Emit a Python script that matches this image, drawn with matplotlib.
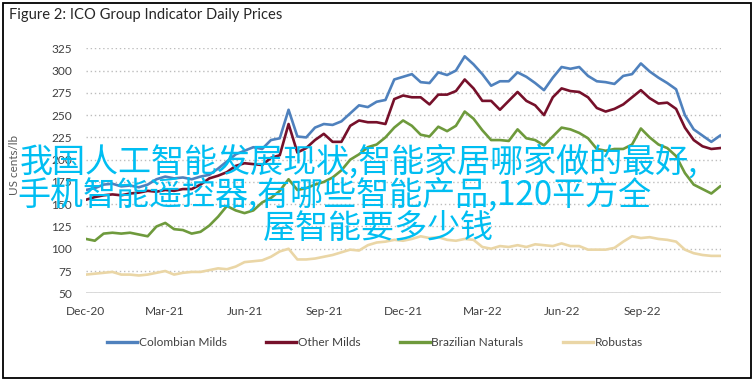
import matplotlib
matplotlib.use("Agg")
import matplotlib.pyplot as plt
import matplotlib.dates as mdates
from matplotlib.patches import Rectangle
import pandas as pd

# values, one point roughly every 10 days (Dec-20 .. Nov-22)
colombian = [166, 168, 172, 173, 170, 171, 169, 172, 178, 181, 179, 180, 178, 181, 183, 190,
             198, 206, 210, 214, 212, 222, 224, 256, 226, 225, 236, 240, 239, 243, 252, 261,
             259, 265, 267, 290, 293, 296, 287, 286, 298, 295, 300, 316, 307, 296, 283, 288,
             288, 298, 293, 286, 278, 292, 304, 302, 304, 294, 288, 287, 285, 294, 296, 308,
             299, 292, 286, 279, 250, 234, 227, 220, 227]
other_milds = [155, 158, 160, 161, 160, 162, 163, 165, 164, 166, 165, 167, 167, 172, 179, 182,
               186, 193, 196, 195, 194, 202, 205, 240, 208, 213, 222, 229, 220, 220, 238, 244,
               242, 242, 240, 268, 272, 270, 270, 262, 273, 273, 277, 290, 280, 266, 266, 256,
               266, 276, 266, 261, 250, 270, 280, 277, 276, 270, 258, 254, 257, 262, 270, 278,
               269, 263, 264, 257, 236, 222, 215, 212, 213]
brazilian = [111, 109, 117, 118, 117, 118, 116, 114, 125, 129, 122, 121, 117, 119, 126, 136,
             148, 143, 140, 143, 152, 157, 165, 178, 166, 168, 172, 175, 180, 188, 200, 206,
             214, 217, 225, 236, 244, 238, 228, 226, 237, 232, 238, 254, 246, 233, 222, 222,
             221, 234, 224, 222, 216, 226, 236, 234, 230, 224, 212, 210, 212, 212, 217, 235,
             225, 217, 213, 204, 185, 172, 167, 162, 170]
robustas = [71, 72, 73, 74, 71, 71, 70, 71, 73, 75, 71, 73, 74, 74, 76, 78,
            77, 80, 85, 86, 87, 91, 97, 100, 88, 88, 89, 91, 93, 96, 99, 98,
            104, 107, 108, 110, 109, 111, 114, 112, 113, 110, 109, 111, 110, 102, 100, 103,
            102, 104, 102, 105, 104, 103, 106, 103, 103, 99, 99, 99, 101, 108, 114, 112,
            113, 111, 110, 108, 99, 95, 93, 92, 92]

dates = pd.date_range("2020-12-01", "2022-11-29", periods=len(colombian))

series = ["Colombian Milds", "Other Milds", "Brazilian Naturals", "Robustas"]
colors = ["#4f81bd", "#76102a", "#6e9a3c", "#ead6a6"]
overlay = ["我国人工智能发展现状,智能家居哪家做的最好,",
           "手机智能遥控器,有哪些智能产品,120平方全",
           "屋智能要多少钱"]

plt.rcParams["font.family"] = ["Lato", "DejaVu Sans"]
W, H = 755, 382
fig = plt.figure(figsize=(W / 100, H / 100), dpi=100)
ax = fig.add_axes([86 / W, 1 - 293.3 / H, 635 / W, 245 / H])

for vals, name, c in zip([colombian, other_milds, brazilian, robustas], series, colors):
    ax.plot(dates, vals, color=c, lw=1.9, label=name, solid_joinstyle="round")

ax.set_ylim(50, 325)
ax.set_yticks(range(50, 326, 25))
ax.set_xlim(pd.Timestamp("2020-12-01"), pd.Timestamp("2022-11-30"))
ax.xaxis.set_major_locator(mdates.MonthLocator(bymonth=[3, 6, 9, 12]))
ax.xaxis.set_major_formatter(mdates.DateFormatter("%b-%y"))
ax.grid(axis="y", color="#bdbdbd", linestyle=(0, (1, 2)), lw=1)
ax.axhline(50, color="#d4d4d4", lw=1.2)
for s in ax.spines.values():
    s.set_visible(False)
ax.tick_params(axis="y", length=0, pad=10, labelsize=8.6, labelcolor="#404040")
ax.tick_params(axis="x", length=0, pad=9, labelsize=8.6, labelcolor="#404040")
ax.set_axisbelow(True)

fig.text(15 / W, 1 - 165 / H, "US cents/lb", rotation=90, ha="center", va="center",
         fontsize=8.4, color="#595959")
fig.text(9 / W, 1 - 15 / H, "Figure 2: ICO Group Indicator Daily Prices", ha="left",
         va="center", fontsize=10.6, color="#262626")

leg = ax.legend(loc="center", bbox_to_anchor=(375 / W, 1 - 343 / H), bbox_transform=fig.transFigure,
                ncol=4, frameon=False, fontsize=8.6, handlelength=2.5, handletextpad=0.15,
                columnspacing=3.3)
for line in leg.get_lines():
    line.set_linewidth(2.4)
for t in leg.get_texts():
    t.set_color("#404040")

fig.add_artist(Rectangle((3 / W, 4 / H), 748 / W, 375 / H, transform=fig.transFigure,
                         fill=False, edgecolor="black", lw=1.3))

cjk = ["Noto Sans CJK SC", "DejaVu Sans"]
for txt, x, y in zip(overlay, [20, 17, 263], [162, 195, 228.5]):
    fig.text(x / W, 1 - y / H, txt, ha="left", va="center", fontsize=23.8,
             color="#00bef2", family=cjk, zorder=10)

fig.savefig("out.png", dpi=100)
